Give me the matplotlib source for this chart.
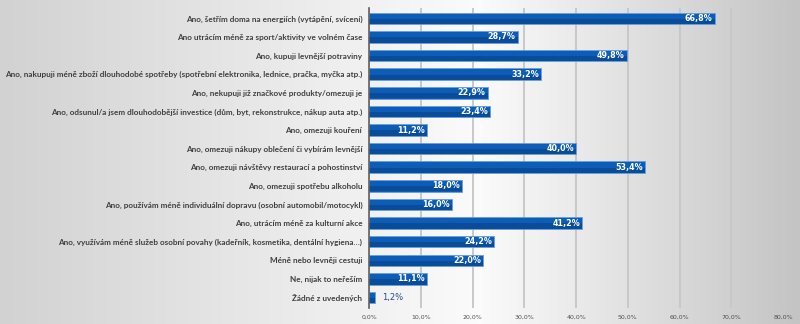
import numpy as np
import matplotlib.pyplot as plt
from matplotlib.colors import LinearSegmentedColormap
from matplotlib.ticker import FuncFormatter

categories = [
    "Ano, šetřím doma na energiích (vytápění, svícení)",
    "Ano utrácím méně za sport/aktivity ve volném čase",
    "Ano, kupuji levnější potraviny",
    "Ano, nakupuji méně zboží dlouhodobé spotřeby (spotřební elektronika, lednice, pračka, myčka atp.)",
    "Ano, nekupuji již značkové produkty/omezuji je",
    "Ano, odsunul/a jsem dlouhodobější investice (dům, byt, rekonstrukce, nákup auta atp.)",
    "Ano, omezuji kouření",
    "Ano, omezuji nákupy oblečení či vybírám levnější",
    "Ano, omezuji návštěvy restaurací a pohostinství",
    "Ano, omezuji spotřebu alkoholu",
    "Ano, používám méně individuální dopravu (osobní automobil/motocykl)",
    "Ano, utrácím méně za kulturní akce",
    "Ano, využívám méně služeb osobní povahy (kadeřník, kosmetika, dentální hygiena…)",
    "Méně nebo levněji cestuji",
    "Ne, nijak to neřeším",
    "Žádné z uvedených",
]
values = [66.8, 28.7, 49.8, 33.2, 22.9, 23.4, 11.2, 40.0, 53.4, 18.0, 16.0, 41.2, 24.2, 22.0, 11.1, 1.2]
xticks = [0, 10, 20, 30, 40, 50, 60, 70, 80]

fig = plt.figure(figsize=(8, 3.24), dpi=100)

# background gradient
bg = fig.add_axes([0, 0, 1, 1], zorder=-10)
bg_cmap = LinearSegmentedColormap.from_list(
    "bg", [(0, "#d2d2d2"), (0.6, "#fbfbfb"), (1, "#c4c4c4")])
grad = np.linspace(0, 1, 400).reshape(1, -1)
bg.imshow(grad, aspect="auto", cmap=bg_cmap, extent=[0, 1, 0, 1])
bg.axis("off")

ax = fig.add_axes([0.4615, 0.05, 0.5185, 0.925])
ax.patch.set_alpha(0)

y = np.arange(len(categories))
ax.barh(y, values, height=0.62, color="#0b5db8", edgecolor="#6a9fdc", linewidth=0.6, zorder=3)
# darker lower part for a rough gradient look
ax.barh(y + 0.16, values, height=0.28, color="#0a4c98", linewidth=0, zorder=3)

for yi, v in zip(y, values):
    txt = f"{v:.1f}%".replace(".", ",")
    if v > 5:
        ax.text(v - 0.4, yi, txt, ha="right", va="center", color="white",
                fontsize=5.8, fontweight="bold", zorder=4)
    else:
        ax.text(v + 1.2, yi, txt, ha="left", va="center", color="#1f4e8c",
                fontsize=6, zorder=4)

ax.set_ylim(len(categories) - 0.45, -0.55)
ax.set_xlim(0, 80.2)
ax.set_yticks(y)
labels = ax.set_yticklabels(categories, fontsize=6, fontweight="bold", color="#404040",
                            family=["Lato", "DejaVu Sans"])
ax.set_xticks(xticks)
ax.xaxis.set_major_formatter(FuncFormatter(lambda v, p: f"{v:.1f}%".replace(".", ",")))
ax.tick_params(axis="x", labelsize=4.5, labelcolor="#505050", length=0, pad=5)
ax.tick_params(axis="y", length=0, pad=5)

# shrink the labels so the longest one fits (about 358 px wide)
fig.canvas.draw()
r = fig.canvas.get_renderer()
widest = max(t.get_window_extent(r).width for t in labels)
for t in labels:
    t.set_fontsize(6 * 358 / widest)

ax.grid(axis="x", color="#c8c8c8", linewidth=1.4, zorder=0)
for s in ["top", "right", "bottom"]:
    ax.spines[s].set_visible(False)
ax.spines["left"].set_color("#606060")
ax.spines["left"].set_linewidth(1.2)
ax.spines["left"].set_zorder(5)

fig.savefig("out.png", dpi=100)
